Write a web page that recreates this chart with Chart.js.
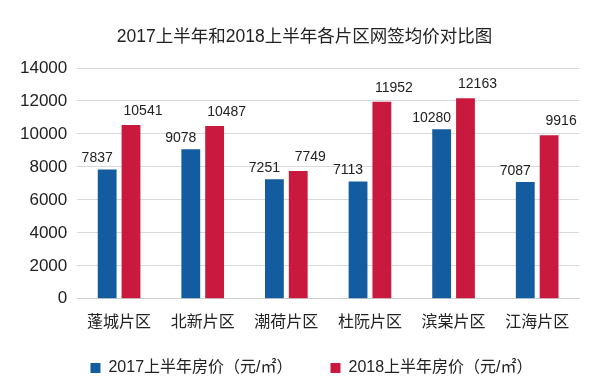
<!DOCTYPE html>
<html>
<head>
<meta charset="utf-8">
<script src="https://cdn.jsdelivr.net/npm/chart.js@4"></script>
<style>
  html, body { margin: 0; padding: 0; background: #fff; }
  #wrap { width: 600px; height: 390px; }
</style>
</head>
<body>
<div id="wrap"><canvas id="priceChart" width="600" height="390"></canvas></div>
<script>
const categories = ["蓬城片区", "北新片区", "潮荷片区", "杜阮片区", "滨棠片区", "江海片区"];
const price2017 = [7837, 9078, 7251, 7113, 10280, 7087];
const price2018 = [10541, 10487, 7749, 11952, 12163, 9916];
const seriesNames = ["2017上半年房价（元/㎡）", "2018上半年房价（元/㎡）"];
const yMax = 14000;
const yStep = 2000;

const fontFamily = '"Liberation Sans", Arial, "Noto Sans CJK SC", sans-serif';

// value labels above bars, blue ones nudged left, red ones nudged right
const valueLabels = {
  id: "valueLabels",
  afterDatasetsDraw(chart) {
    const ctx = chart.ctx;
    ctx.save();
    ctx.font = "14px " + fontFamily;
    ctx.fillStyle = "#222";
    ctx.textAlign = "center";
    ctx.textBaseline = "middle";
    chart.data.datasets.forEach((ds, i) => {
      const meta = chart.getDatasetMeta(i);
      const dx = i === 0 ? -10 : 12;
      const dy = i === 0 ? -11 : -14;
      meta.data.forEach((bar, j) => {
        ctx.fillText(String(ds.data[j]), bar.x + dx, bar.y + dy);
      });
    });
    ctx.restore();
  }
};

// nudge title and legend a bit right after layout
const boxShift = {
  id: "boxShift",
  afterLayout(chart) {
    const lg = chart.legend;
    lg.left += 17;
    lg.right += 17;
    lg.top -= 16;
    lg.bottom -= 16;
    const tb = chart.titleBlock;
    tb.left += 10;
    tb.right += 10;
  }
};

const ctx = document.getElementById("priceChart").getContext("2d");

const priceChart = new Chart(ctx, {
  type: "bar",
  data: {
    labels: categories,
    datasets: [
      {
        label: seriesNames[0],
        data: price2017,
        backgroundColor: "#145ca0",
        categoryPercentage: 0.57,
        barPercentage: 0.79,
      },
      {
        label: seriesNames[1],
        data: price2018,
        backgroundColor: "#c9193f",
        categoryPercentage: 0.57,
        barPercentage: 0.79,
      },
    ],
  },
  options: {
    responsive: false,
    maintainAspectRatio: false,
    animation: false,
    layout: {
      padding: { left: 10, right: 21, bottom: -12 },
    },
    plugins: {
      title: {
        display: true,
        text: "2017上半年和2018上半年各片区网签均价对比图",
        color: "#222",
        font: { family: fontFamily, size: 17.5, weight: "normal" },
        padding: { top: 27, bottom: 20 },
      },
      legend: {
        position: "bottom",
        labels: {
          color: "#222",
          font: { family: fontFamily, size: 16 },
          boxWidth: 10,
          boxHeight: 10,
          padding: 38,
        },
      },
      tooltip: { enabled: false },
    },
    scales: {
      x: {
        grid: { display: false },
        border: { color: "#d0d0d0" },
        ticks: {
          color: "#222",
          font: { family: fontFamily, size: 16 },
          padding: 6,
        },
      },
      y: {
        min: 0,
        max: yMax,
        ticks: {
          stepSize: yStep,
          color: "#222",
          font: { family: fontFamily, size: 17 },
          padding: 10,
          callback: (v) => String(v),
        },
        grid: { color: "#d9d9d9", drawTicks: false },
        border: { display: false },
      },
    },
  },
  plugins: [valueLabels, boxShift],
});
</script>
</body>
</html>
